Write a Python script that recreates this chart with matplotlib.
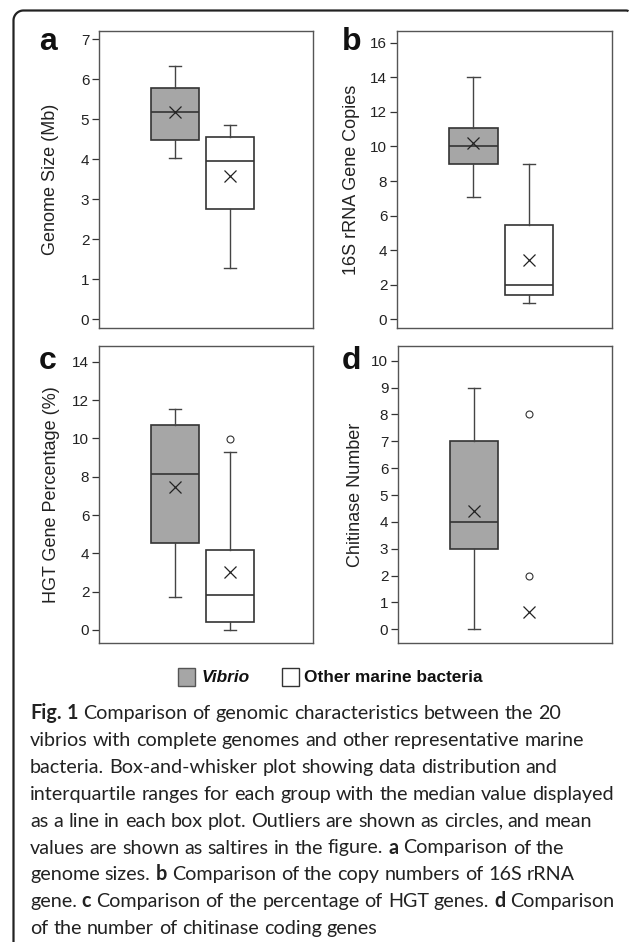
import numpy as np
import matplotlib
matplotlib.use('Agg')
import matplotlib.pyplot as plt
from matplotlib.patches import Rectangle
from matplotlib.lines import Line2D

# box stats: [whislo, q1, med, q3, whishi]
groups = ['Vibrio', 'Other marine bacteria']

genome_stats = [[4.03, 4.47, 5.17, 5.78, 6.32], [1.29, 2.75, 3.96, 4.56, 4.85]]
genome_mean = [5.18, 3.58]
genome_fliers = [[], []]

rrna_stats = [[7.05, 9.0, 10.02, 11.05, 14.03], [0.93, 1.38, 1.97, 5.47, 9.0]]
rrna_mean = [10.2, 3.43]
rrna_fliers = [[], []]

hgt_stats = [[1.74, 4.55, 8.13, 10.68, 11.53], [0.0, 0.44, 1.8, 4.15, 9.3]]
hgt_mean = [7.47, 3.02]
hgt_fliers = [[], [9.95]]

chit_stats = [[0, 3, 4, 7, 9], None]   # no box drawn for other bacteria
chit_mean = [4.4, 0.66]
chit_fliers = [[], [8, 2]]

labels = ['Genome Size (Mb)', '16S rRNA Gene Copies', 'HGT Gene Percentage (%)', 'Chitinase Number']
letters = ['a', 'b', 'c', 'd']

caption = [
    '*Fig. *1 Comparison of genomic characteristics between the 20',
    'vibrios with complete genomes and other representative marine',
    'bacteria. Box-and-whisker plot showing data distribution and',
    'interquartile ranges for each group with the median value displayed',
    'as a line in each box plot. Outliers are shown as circles, and mean',
    'values are shown as saltires in the figure. *a Comparison of the',
    'genome sizes. *b Comparison of the copy numbers of 16S rRNA',
    'gene. *c Comparison of the percentage of HGT genes. *d Comparison',
    'of the number of chitinase coding genes',
]

W, H = 633, 942
fig = plt.figure(figsize=(W / 100, H / 100), dpi=100)
plt.rcParams['font.family'] = ['Liberation Sans', 'DejaVu Sans']

def fx(p):
    return p / W

def fy(p):
    return 1 - p / H

# axes boxes in pixels: left, top, right, bottom
boxes = [(99, 31, 313, 328), (397, 31, 612, 328), (99, 346, 313, 643), (398, 346, 612, 643)]
ylims = [(-0.22, 7.2), (-0.5, 16.68), (-0.68, 14.82), (-0.51, 10.55)]
yticks = [np.arange(0, 8, 1), np.arange(0, 17, 2), np.arange(0, 15, 2), np.arange(0, 11, 1)]
lab_off = [48, 45, 47, 42]
letter_pos = [(39, 50), (342, 50), (39, 369), (342, 369)]

all_stats = [genome_stats, rrna_stats, hgt_stats, chit_stats]
all_mean = [genome_mean, rrna_mean, hgt_mean, chit_mean]
all_fliers = [genome_fliers, rrna_fliers, hgt_fliers, chit_fliers]
fills = ['#a6a6a6', 'white']

for i in range(4):
    l, t, r, b = boxes[i]
    ax = fig.add_axes([fx(l), fy(b), fx(r - l), (b - t) / H])
    stats = []
    pos = []
    for j in range(2):
        s = all_stats[i][j]
        if s is None:
            ax.plot([2], [all_mean[i][j]], marker='x', color='#222', ms=9, mew=0.9, ls='none')
            ax.plot([2] * len(all_fliers[i][j]), all_fliers[i][j], marker='o', mfc='white',
                    mec='#333', ms=5, mew=0.8, ls='none')
            continue
        stats.append(dict(whislo=s[0], q1=s[1], med=s[2], q3=s[3], whishi=s[4],
                          mean=all_mean[i][j], fliers=all_fliers[i][j]))
        pos.append(j + 1)
    bp = ax.bxp(stats, positions=pos, widths=0.87, patch_artist=True, showmeans=True,
                capwidths=0.22,
                boxprops=dict(edgecolor='#333333', linewidth=1.2),
                medianprops=dict(color='#333333', linewidth=1.2),
                whiskerprops=dict(color='#444444', linewidth=1.0),
                capprops=dict(color='#444444', linewidth=1.0),
                meanprops=dict(marker='x', markeredgecolor='#222', markersize=9, markeredgewidth=0.9),
                flierprops=dict(marker='o', markerfacecolor='white', markeredgecolor='#333',
                                markersize=5, markeredgewidth=0.8))
    for k, patch in enumerate(bp['boxes']):
        patch.set_facecolor(fills[pos[k] - 1])
    ax.set_xlim(-0.38, 3.5)
    ax.set_ylim(*ylims[i])
    ax.set_yticks(yticks[i])
    ax.set_xticks([])
    ax.tick_params(axis='y', length=5, width=0.9, color='#333', labelsize=11, labelcolor='#222', pad=2)
    for sp in ax.spines.values():
        sp.set_color('#555555')
        sp.set_linewidth(1.0)
    ax.set_ylabel(labels[i], fontsize=13, color='#222', va='center')
    ax.yaxis.set_label_coords(-lab_off[i] / (r - l), 0.5)
    fig.text(fx(letter_pos[i][0]), fy(letter_pos[i][1]), letters[i], fontsize=23,
             fontweight='bold', ha='left', va='baseline', color='#111')

# legend
fig.add_artist(Rectangle((fx(178), fy(686)), fx(17), 18 / H, facecolor='#a6a6a6',
                         edgecolor='#555', linewidth=1.0, transform=fig.transFigure))
fig.text(fx(202), fy(682), 'Vibrio', fontsize=12.4, fontweight='bold', style='italic',
         ha='left', va='baseline', color='#111')
fig.add_artist(Rectangle((fx(282), fy(686)), fx(17), 18 / H, facecolor='white',
                         edgecolor='#333', linewidth=1.0, transform=fig.transFigure))
fig.text(fx(304), fy(682), 'Other marine bacteria', fontsize=12.4, fontweight='bold',
         ha='left', va='baseline', color='#111')

# caption, laid out word by word
renderer = fig.canvas.get_renderer()
cap_font = 'Lato'

def width_of(s, size, weight):
    t = fig.text(0, 0, s, fontsize=size, fontweight=weight, family=cap_font)
    w = t.get_window_extent(renderer).width
    t.remove()
    return w

def line_width(line, size):
    words = line.split(' ')
    sp = width_of('a a', size, 'normal') - width_of('aa', size, 'normal')
    tot = 0
    for w in words:
        wt = 'bold' if w.startswith('*') else 'normal'
        tot += width_of(w.lstrip('*'), size, wt)
    return tot + sp * (len(words) - 1)

size = 14.0
size = size * 587 / line_width(caption[3], size)

sp = width_of('a a', size, 'normal') - width_of('aa', size, 'normal')
for n, line in enumerate(caption):
    x = 30
    y = 719 + n * 26.9
    for w in line.split(' '):
        wt = 'bold' if w.startswith('*') else 'normal'
        w = w.lstrip('*')
        fig.text(fx(x), fy(y), w, fontsize=size, fontweight=wt, family=cap_font,
                 ha='left', va='baseline', color='#222')
        x += width_of(w, size, wt) + sp

# outer frame: left and top edges with rounded corners
rad = 10
ang = np.linspace(np.pi, np.pi / 2, 20)
cx, cy = 13.5 + rad, 10.5 + rad
xs = np.concatenate([[13.5], cx + rad * np.cos(ang), [626]])
ys = np.concatenate([[942], cy - rad * np.sin(ang), [10.5]])
ang2 = np.linspace(np.pi / 2, np.pi / 3, 8)
xs = np.concatenate([xs, 626 + 5 * np.cos(ang2)])
ys = np.concatenate([ys, 15.5 - 5 * np.sin(ang2)])
fig.add_artist(Line2D(xs / W, 1 - ys / H, color='#222', linewidth=1.6,
                      transform=fig.transFigure, solid_capstyle='butt'))

fig.savefig('out.png', dpi=100)
